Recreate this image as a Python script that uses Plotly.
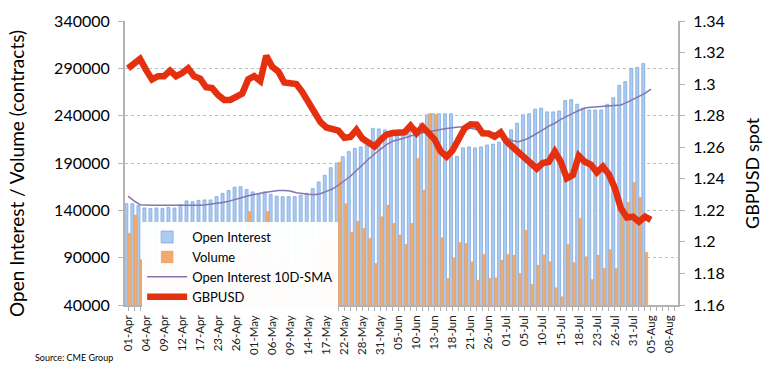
import plotly.graph_objects as go

dates = [
    "01-Apr","02-Apr","03-Apr","04-Apr","05-Apr","08-Apr","09-Apr","10-Apr","11-Apr","12-Apr",
    "15-Apr","16-Apr","17-Apr","18-Apr","22-Apr","23-Apr","24-Apr","25-Apr","26-Apr","29-Apr",
    "30-Apr","01-May","02-May","03-May","06-May","07-May","08-May","09-May","10-May","13-May",
    "14-May","15-May","16-May","17-May","20-May","21-May","22-May","23-May","24-May","28-May",
    "29-May","30-May","31-May","03-Jun","04-Jun","05-Jun","06-Jun","07-Jun","10-Jun","11-Jun",
    "12-Jun","13-Jun","14-Jun","17-Jun","18-Jun","19-Jun","20-Jun","21-Jun","24-Jun","25-Jun",
    "26-Jun","27-Jun","28-Jun","01-Jul","02-Jul","03-Jul","05-Jul","08-Jul","09-Jul","10-Jul",
    "11-Jul","12-Jul","15-Jul","16-Jul","17-Jul","18-Jul","19-Jul","22-Jul","23-Jul","24-Jul",
    "25-Jul","26-Jul","29-Jul","30-Jul","31-Jul","01-Aug","02-Aug","05-Aug","06-Aug","07-Aug",
    "08-Aug","09-Aug",
]
tick_labels = [d if i % 3 == 0 else "" for i, d in enumerate(dates)]

open_interest = [
    147000,147000,145000,142500,142000,142500,142000,143000,142500,146000,
    150000,149000,150500,151000,151000,154500,158000,161000,164500,165000,
    162000,159500,157500,159500,157000,155000,154500,154500,154500,156000,
    158000,163000,170000,177000,185000,190000,196600,202000,205500,207000,
    209000,226600,226000,225000,221000,219500,221000,224000,228000,232000,
    241000,242000,242000,242000,242000,197000,206000,207000,206000,207000,
    209000,210000,212000,218000,225000,232000,241000,242000,247000,248000,
    244000,244000,245000,256000,257000,252000,248000,246000,246000,246000,
    252000,259000,272000,276000,290000,291000,295000,
]
volume = [
    115700,135000,88000,95000,82000,78000,92000,85000,70000,98000,
    76000,88000,102000,84000,45000,58000,80000,74000,90000,96000,
    139000,100000,92000,139000,98000,86000,94000,80000,88000,72000,
    96000,104000,110000,108000,112000,191000,147000,117000,128700,121000,
    110400,84000,133300,145600,126300,114000,104000,126300,195000,161500,
    242500,241400,111100,68200,90000,106000,105200,85700,66400,93500,
    68200,68800,87500,93500,92800,73500,119200,62000,82200,93000,
    85700,58300,48800,104000,85000,131600,91000,67000,92800,78800,
    98800,78800,135000,148500,169600,153800,95700,
]
oi_sma = [
    155000,150000,146000,145500,145500,145500,145500,145500,145000,144800,
    144800,145000,145500,146000,146800,147400,148500,150000,151500,153500,
    155500,157000,158000,159000,160000,161000,161000,160500,158500,157500,
    157000,156500,157500,160000,162500,166500,171000,176000,182000,188500,
    194000,199500,205000,209500,213000,214500,216500,218500,220500,222000,
    223000,224500,225500,226500,227500,228000,228000,227000,225500,224000,
    223000,221500,219000,216000,213500,212500,214500,217500,221000,225000,
    229000,232000,236000,239500,242500,245500,248000,249000,249500,249500,
    250000,250500,251300,254000,257300,260500,263600,268000,
]
gbpusd = [
    1.310,1.313,1.316,1.309,1.303,1.305,1.305,1.3085,1.305,1.307,
    1.310,1.305,1.3035,1.298,1.2975,1.293,1.290,1.290,1.292,1.294,
    1.303,1.305,1.302,1.318,1.311,1.308,1.301,1.300,1.300,1.295,
    1.289,1.282,1.276,1.2725,1.272,1.2705,1.266,1.2665,1.271,1.2655,
    1.263,1.2605,1.2645,1.268,1.269,1.269,1.2695,1.2736,1.2688,1.273,
    1.2694,1.265,1.2575,1.254,1.258,1.265,1.272,1.2745,1.2743,1.2688,
    1.2687,1.2667,1.2694,1.2635,1.260,1.257,1.253,1.250,1.2465,1.250,
    1.2508,1.2572,1.2508,1.2403,1.2424,1.2546,1.2508,1.249,1.2441,1.2477,
    1.2428,1.234,1.2213,1.2155,1.216,1.2128,1.216,1.2139,
]

FONT = "Lato"

fig = go.Figure()
fig.add_trace(go.Bar(
    x=dates[:len(open_interest)], y=open_interest, name="Open Interest",
    marker=dict(color="#adcbf0", line=dict(color="#74a2de", width=0.7)),
    width=0.5, offset=-0.52,
))
fig.add_trace(go.Bar(
    x=dates[:len(volume)], y=volume, name="Volume",
    marker=dict(color="#f0aa6c", line=dict(color="#e79a5c", width=0.3)),
    width=0.5, offset=-0.02,
))
fig.add_trace(go.Scatter(
    x=dates[:len(oi_sma)], y=oi_sma, name="Open Interest 10D-SMA",
    mode="lines", line=dict(color="#8475b0", width=1.5),
))
fig.add_trace(go.Scatter(
    x=dates[:len(gbpusd)], y=gbpusd, name="GBPUSD", yaxis="y2",
    mode="lines", line=dict(color="#e5300f", width=6.5),
))

axis_grey = "#b3b3b3"
fig.update_layout(
    width=770, height=370,
    margin=dict(l=125, r=92, t=21, b=65),
    paper_bgcolor="white", plot_bgcolor="white",
    barmode="overlay",
    font=dict(family=FONT, color="#000000"),
    showlegend=True,
    legend=dict(
        x=0.031, y=0.292, xanchor="left", yanchor="top",
        bgcolor="rgba(255,255,255,0.97)", borderwidth=0,
        font=dict(family=FONT, size=13, color="#000000"),
        itemwidth=40, tracegroupgap=0,
    ),
    xaxis=dict(
        type="category", categoryorder="array", categoryarray=dates,
        range=[-0.5, len(dates) - 0.5],
        tickmode="array", tickvals=dates, ticktext=tick_labels,
        tickangle=-90, tickfont=dict(size=11.5, family=FONT, color="#1a1a1a"),
        ticks="outside", ticklen=4, tickcolor=axis_grey,
        showline=True, linecolor=axis_grey, linewidth=1.5,
        showgrid=False, zeroline=False,
    ),
    yaxis=dict(
        range=[40000, 340000], tick0=40000, dtick=50000, tickformat="d",
        tickfont=dict(size=16, family=FONT),
        showgrid=True, gridcolor="#bdbdbd", griddash="dot", gridwidth=1,
        showline=True, linecolor=axis_grey, linewidth=2,
        ticks="outside", ticklen=5, tickcolor=axis_grey,
        ticklabelstandoff=5,
        zeroline=False,
    ),
    yaxis2=dict(
        overlaying="y", side="right",
        range=[1.16, 1.34], tick0=1.16, dtick=0.02,
        tickfont=dict(size=16, family=FONT),
        showgrid=False, zeroline=False,
        showline=True, linecolor=axis_grey, linewidth=2,
        ticks="outside", ticklen=5, tickcolor=axis_grey,
        ticklabelstandoff=5,
    ),
    annotations=[
        dict(text="Open Interest / Volume (contracts)", xref="paper", yref="paper",
             x=(16 - 125) / 553, y=(305 - 174) / 284, textangle=-90, showarrow=False,
             font=dict(size=19, family=FONT, color="#000000"),
             xanchor="center", yanchor="middle"),
        dict(text="GBPUSD spot", xref="paper", yref="paper",
             x=(752 - 125) / 553, y=(305 - 173) / 284, textangle=-90, showarrow=False,
             font=dict(size=18, family=FONT, color="#000000"),
             xanchor="center", yanchor="middle"),
        dict(text="Source: CME Group", xref="paper", yref="paper",
             x=(33 - 125) / 553, y=(305 - 357) / 284, showarrow=False,
             font=dict(size=9, family=FONT, color="#000000"),
             xanchor="left", yanchor="middle"),
    ],
)

fig.write_html(
    "out.html",
    config={"displayModeBar": False},
    post_script="document.body.style.margin='0';document.body.style.overflow='hidden';",
)
